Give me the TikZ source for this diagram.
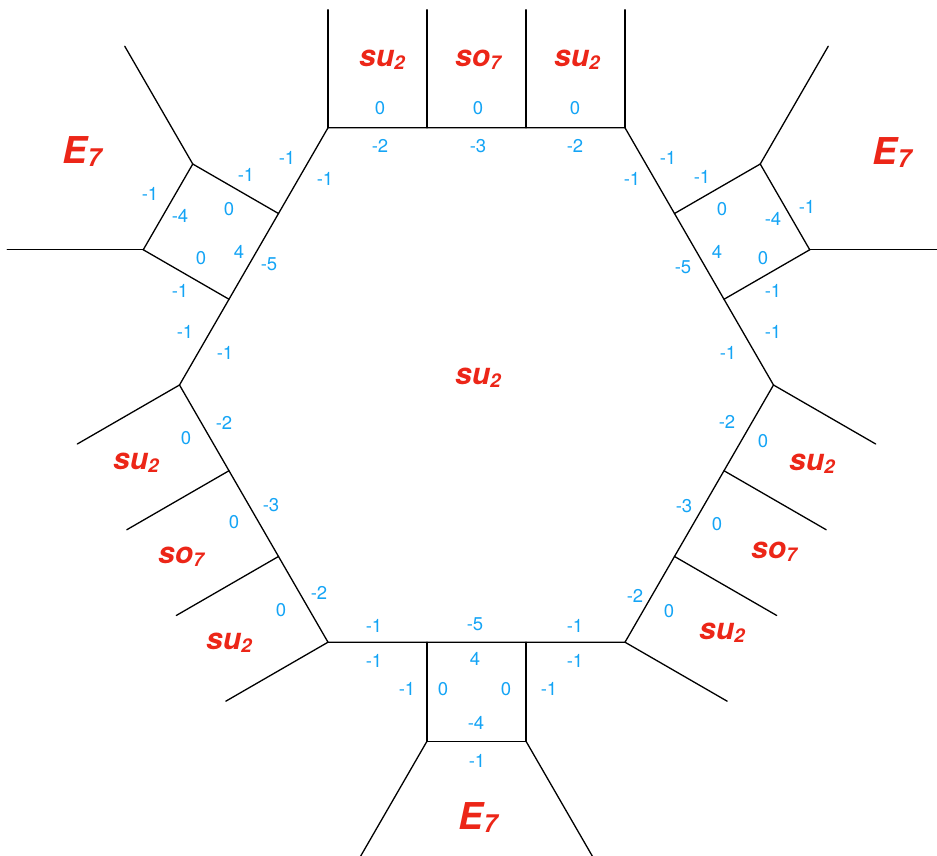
\documentclass[tikz,border=0pt]{standalone}
\usepackage{fontspec}
\setmainfont{TeX Gyre Heros}
\usetikzlibrary{calc}
\definecolor{algred}{RGB}{236,38,24}
\definecolor{numblue}{RGB}{20,164,245}
% gauge algebra label: size, subscript size, name, subscript
\newcommand\gauge[4]{\fontsize{#1}{#1}\selectfont\bfseries\itshape #3\raisebox{-3pt}{\fontsize{#2}{#2}\selectfont #4}}
\begin{document}
\begin{tikzpicture}[x=1pt,y=1pt,
  web/.style={line width=1.3pt, line cap=round, line join=miter},
  num/.style={text=numblue, font=\fontsize{18.5}{18.5}\selectfont, inner sep=0pt},
  grp/.style={text=algred, inner sep=0pt}]
\useasboundingbox (-476.5,-471) rectangle (460.5,385);

% central hexagon
\foreach \i in {0,...,5} \coordinate (V\i) at (\i*60:297);
\draw[web] (V0)--(V1)--(V2)--(V3)--(V4)--(V5)--cycle;

% three edges carrying su2 - so7 - su2 legs
\foreach \a/\b/\n [count=\k] in {V2/V1/90, V3/V4/210, V5/V0/330} {
  \coordinate (F\k-0) at (\a);
  \coordinate (F\k-1) at ($(\a)!1/3!(\b)$);
  \coordinate (F\k-2) at ($(\a)!2/3!(\b)$);
  \coordinate (F\k-3) at (\b);
  \foreach \j in {0,...,3} {
    \coordinate (L\k-\j) at ($(F\k-\j)+(\n:118)$);
    \draw[web] (F\k-\j) -- (L\k-\j);
  }
}

% three E7 boxes with their outer legs
\foreach \a/\b/\n/\da/\db [count=\k] in {V2/V3/150/120/180, V4/V5/270/240/300, V0/V1/30/0/60} {
  \coordinate (A\k) at ($(\a)!1/3!(\b)$);
  \coordinate (B\k) at ($(\a)!2/3!(\b)$);
  \coordinate (C\k) at ($(A\k)+(\n:99)$);
  \coordinate (D\k) at ($(B\k)+(\n:99)$);
  \coordinate (P\k) at ($(C\k)+(\da:136)$);
  \coordinate (Q\k) at ($(D\k)+(\db:136)$);
  \draw[web] (A\k) -- (C\k) -- (D\k) -- (B\k);
  \draw[web] (C\k) -- (P\k);
  \draw[web] (D\k) -- (Q\k);
}

% labels, placed in page pixel coordinates
\begin{scope}[x=1pt,y=-1pt,shift={(-476.5,-385)}]
  \foreach \t/\x/\y [count=\i] in {
    0/380/108, 0/478/108, 0/575/108, -2/380/146, -3/478/146, -2/575/146,
    -1/287/158, -1/246/175, -1/325/179, -1/150/194, -4/180/216, 0/229/209,
    0/201/258, 4/239/252, -5/269/264, -1/180/291, -1/185/332, -1/225/353,
    -1/668/158, -1/632/179, -1/702/177, 0/722/209, -4/773/219, -1/807/207,
    4/717/252, 0/763/258, -5/683/267, -1/773/291, -1/773/332, -1/728/353,
    -2/224/423, 0/186/438, -3/271/505, 0/234/522, -2/319/593, 0/281/610,
    -2/727/422, 0/763/441, -3/684/506, 0/717/524, -2/635/596, 0/669/611,
    -1/374/626, -5/475/624, -1/575/626, -1/374/661, 4/475/659, -1/575/661,
    -1/407/689, 0/443/689, 0/506/689, -1/549/689, -4/476/723, -1/477/761}
    \node[num] (n\i) at (\x,\y) {\t};

  \node[grp] (g1)  at (382,60)  {\gauge{30}{19}{su}{2}};
  \node[grp] (g2)  at (478,60)  {\gauge{30}{19}{so}{7}};
  \node[grp] (g3)  at (577,60)  {\gauge{30}{19}{su}{2}};
  \node[grp] (g4)  at (478,378) {\gauge{30}{19}{su}{2}};
  \node[grp] (g5)  at (136,463) {\gauge{30}{19}{su}{2}};
  \node[grp] (g6)  at (181,557) {\gauge{30}{19}{so}{7}};
  \node[grp] (g7)  at (229,643) {\gauge{30}{19}{su}{2}};
  \node[grp] (g8)  at (812,464) {\gauge{30}{19}{su}{2}};
  \node[grp] (g9)  at (774,552) {\gauge{30}{19}{so}{7}};
  \node[grp] (g10) at (722,633) {\gauge{30}{19}{su}{2}};
  \node[grp] (e1)  at (82,152)  {\gauge{37}{25}{E}{7}};
  \node[grp] (e2)  at (892,153) {\gauge{37}{25}{E}{7}};
  \node[grp] (e3)  at (478,818) {\gauge{37}{25}{E}{7}};
\end{scope}
\end{tikzpicture}
\end{document}
